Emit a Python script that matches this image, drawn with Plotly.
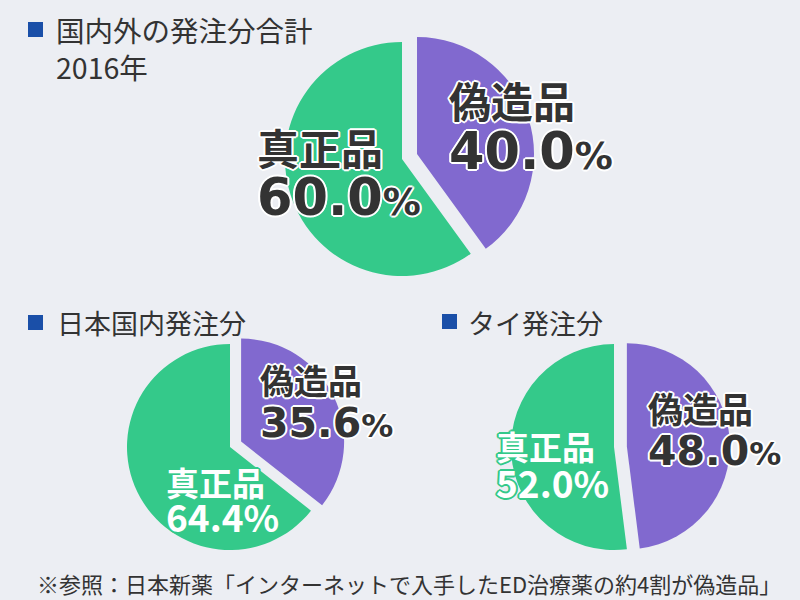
import plotly.graph_objects as go

# ---- data ----
titles = ["国内外の発注分合計<br>2016年", "日本国内発注分", "タイ発注分"]
labels = ["偽造品", "真正品"]
fake_share = [40.0, 35.6, 48.0]
genuine_share = [60.0, 64.4, 52.0]
source_note = "※参照：日本新薬「インターネットで入手したED治療薬の約4割が偽造品」"

# ---- style ----
W, H = 800, 600
BG = "#ECEEF3"
GREEN = "#34C98A"
PURPLE = "#8169CF"
DARK = "#333333"
BLUE = "#1A4FA8"
FONT = "Noto Sans CJK JP"
NUMFONT = "DejaVu Sans"

def px(x):
    return x / W

def py(y):
    return 1 - y / H

def outline(color, w=2):
    d = round(w * 0.7, 1)
    parts = [f"{w}px 0 {color}", f"-{w}px 0 {color}", f"0 {w}px {color}", f"0 -{w}px {color}",
             f"{d}px {d}px {color}", f"-{d}px -{d}px {color}", f"{d}px -{d}px {color}", f"-{d}px {d}px {color}"]
    return ", ".join(parts)

# pie placement: (center x, center y, radius, pull) in pixels
pies = [(402, 159, 117, 0.135), (230, 447, 103, 0.12), (614, 447, 103, 0.125)]

fig = go.Figure()
for i, (cx, cy, r, pull) in enumerate(pies):
    half = r * (1 + pull)
    fig.add_trace(go.Pie(
        labels=labels,
        values=[fake_share[i], genuine_share[i]],
        sort=False,
        direction="clockwise",
        rotation=0,
        pull=[pull, 0],
        marker=dict(colors=[PURPLE, GREEN], line=dict(width=0)),
        textinfo="none",
        hoverinfo="label+percent",
        showlegend=False,
        domain=dict(x=[px(cx - half), px(cx + half)], y=[py(cy + half), py(cy - half)]),
    ))

annotations = []
shapes = []

# titles with blue squares
title_pos = [(54, 48.5, 28.5), (55, 322, 27), (466, 322, 27)]
square_pos = [(28, 22), (28, 315), (442, 314)]
for t, (tx, ty, fs), (sx, sy) in zip(titles, title_pos, square_pos):
    annotations.append(dict(text=t, x=px(tx), y=py(ty), xref="paper", yref="paper",
                            xanchor="left", yanchor="middle", align="left", showarrow=False,
                            font=dict(family=FONT, size=fs, color=DARK)))
    shapes.append(dict(type="rect", xref="paper", yref="paper", x0=px(sx), x1=px(sx + 15),
                       y0=py(sy + 15), y1=py(sy), fillcolor=BLUE, line=dict(width=0)))

def pct_text(v, small):
    return f"<b>{v:.1f}<span style='font-size:{small}px'>%</span></b>"

# label specs: (x_left, y_label, y_pct, label_size, pct_size, pct_small, color, outline_color, pct_font)
fake_specs = [
    (447, 99, 151, 42, 51, 38, DARK, "#ffffff", NUMFONT),
    (258, 379, 423, 34, 41, 32, DARK, "#ffffff", NUMFONT),
    (646, 407, 451, 35, 41, 32, DARK, "#ffffff", NUMFONT),
]
genuine_specs = [
    (255, 146, 197, 42, 51, 38, DARK, "#ffffff", NUMFONT),
    (164, 482, 516, 33, 37, 37, "#ffffff", GREEN, FONT),
    (494, 446, 482, 33, 37, 37, "#ffffff", GREEN, FONT),
]

for i in range(3):
    for (spec, lab, val) in [(fake_specs[i], labels[0], fake_share[i]),
                             (genuine_specs[i], labels[1], genuine_share[i])]:
        x0, yl, yp, ls, ps, pss, col, oc, nf = spec
        annotations.append(dict(text=f"<b>{lab}</b>", x=px(x0), y=py(yl), xref="paper", yref="paper",
                                xanchor="left", yanchor="middle", showarrow=False,
                                font=dict(family=FONT, size=ls, color=col, shadow=outline(oc))))
        annotations.append(dict(text=pct_text(val, pss), x=px(x0), y=py(yp), xref="paper", yref="paper",
                                xanchor="left", yanchor="middle", showarrow=False,
                                font=dict(family=nf, size=ps, color=col, shadow=outline(oc))))

annotations.append(dict(text=source_note, x=px(409), y=py(583), xref="paper", yref="paper",
                        xanchor="center", yanchor="middle", showarrow=False,
                        font=dict(family=FONT, size=22, color=DARK)))

fig.update_layout(
    width=W, height=H,
    margin=dict(l=0, r=0, t=0, b=0),
    paper_bgcolor=BG, plot_bgcolor=BG,
    annotations=annotations, shapes=shapes,
)

fig.write_html("out.html",
               config={"displayModeBar": False},
               post_script="document.body.style.margin='0';document.body.style.background='%s';" % BG)
